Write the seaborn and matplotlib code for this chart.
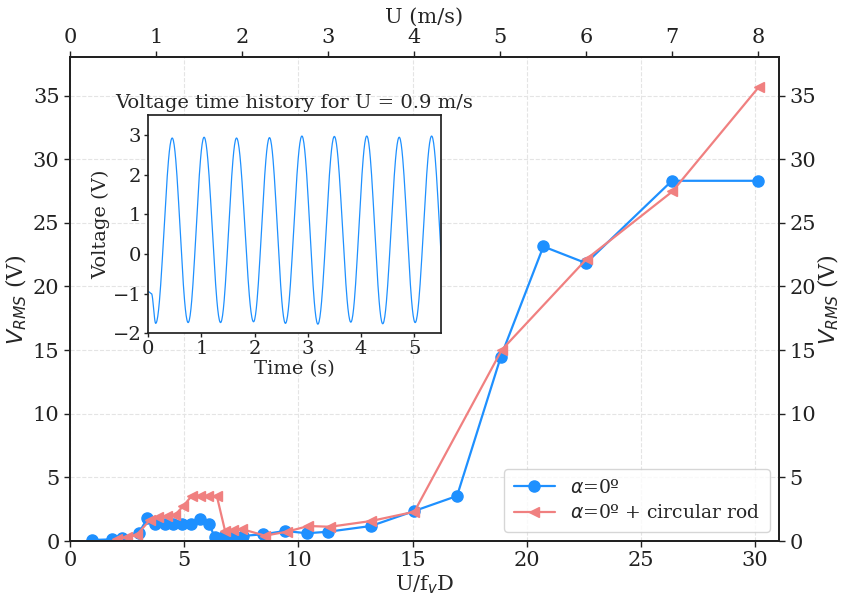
import numpy as np
import pandas as pd
import matplotlib
matplotlib.use("Agg")
import matplotlib.pyplot as plt
import seaborn as sns

# ==========================================
# DATA
# ==========================================
# alpha = 0 deg
bare_x = [0.95, 1.83, 2.26, 3.02, 3.39, 3.72, 4.16, 4.52, 4.89, 5.29, 5.69, 6.09,
          6.35, 6.71, 7.15, 7.56, 8.47, 9.42, 10.37, 11.31, 13.18, 15.08, 16.95,
          18.87, 20.73, 22.60, 26.36, 30.12]
bare_y = [0.08, 0.13, 0.20, 0.65, 1.78, 1.31, 1.31, 1.31, 1.31, 1.31, 1.71, 1.31,
          0.29, 0.29, 0.35, 0.40, 0.53, 0.79, 0.61, 0.73, 1.18, 2.36, 3.54,
          14.49, 23.14, 21.83, 28.30, 28.30]

# alpha = 0 deg + circular rod
rod_x = [2.05, 2.48, 2.92, 3.50, 3.87, 4.24, 4.60, 4.96, 5.33, 5.69, 6.06, 6.43,
         6.79, 7.15, 7.52, 8.54, 9.49, 10.44, 11.39, 13.18, 15.08, 18.91, 22.63,
         26.38, 30.18]
rod_y = [0.16, 0.29, 0.47, 1.65, 1.86, 1.97, 2.04, 2.75, 3.54, 3.54, 3.54, 3.54,
         0.81, 0.86, 0.94, 0.42, 0.73, 1.18, 1.12, 1.57, 2.30, 15.02, 22.17,
         27.46, 35.70]

# inset: voltage time history, turning points of the trace
ext_t = [0.00, 0.06, 0.14, 0.45, 0.75, 1.05, 1.36, 1.66, 1.98, 2.28, 2.58, 2.89,
         3.19, 3.50, 3.81, 4.11, 4.41, 4.72, 5.02, 5.33, 5.63]
ext_v = [-0.95, -1.00, -1.75, 2.92, -1.73, 2.94, -1.73, 2.92, -1.71, 2.93, -1.75,
         2.97, -1.77, 2.96, -1.72, 2.97, -1.76, 2.94, -1.73, 2.97, -1.75]

# smooth half-cosine between consecutive turning points
t_list, v_list = [], []
for i in range(len(ext_t) - 1):
    s = np.linspace(0, 1, 40, endpoint=False)
    t_list.append(ext_t[i] + (ext_t[i + 1] - ext_t[i]) * s)
    v_list.append(ext_v[i] + (ext_v[i + 1] - ext_v[i]) * (1 - np.cos(np.pi * s)) / 2)
wave = pd.DataFrame({"t": np.concatenate(t_list), "v": np.concatenate(v_list)})

bare = pd.DataFrame({"x": bare_x, "y": bare_y})
rod = pd.DataFrame({"x": rod_x, "y": rod_y})

# ==========================================
# STYLE
# ==========================================
sns.set_theme(style="ticks")
plt.rcParams["font.family"] = ["DejaVu Serif"]
plt.rcParams["mathtext.fontset"] = "dejavusans"
plt.rcParams["axes.edgecolor"] = "#222222"
plt.rcParams["xtick.color"] = "#222222"
plt.rcParams["ytick.color"] = "#222222"

blue = "#1E90FF"
red = "#F08080"

fig = plt.figure(figsize=(8.41, 5.99), dpi=100)
ax = fig.add_axes([0.0832, 0.0968, 0.8431, 0.8075])

sns.lineplot(data=bare, x="x", y="y", ax=ax, sort=False, estimator=None,
             color=blue, marker="o", markersize=8, mec=blue, mew=1, lw=1.6,
             label=r"$\alpha$=0º")
sns.lineplot(data=rod, x="x", y="y", ax=ax, sort=False, estimator=None,
             color=red, marker="<", markersize=7.5, mec=red, mew=1, lw=1.6,
             label=r"$\alpha$=0º + circular rod")

ax.set_xlim(0, 31.05)
ax.set_ylim(0, 38)
ax.set_xticks([0, 5, 10, 15, 20, 25, 30])
ax.set_yticks([0, 5, 10, 15, 20, 25, 30, 35])
ax.grid(True, ls="--", color="#e4e4e4", lw=0.8)
ax.set_xlabel(r"U/f$_v$D", fontsize=15, labelpad=2)
ax.set_ylabel(r"$V_{RMS}$ (V)", fontsize=16, labelpad=3)
ax.tick_params(labelsize=15, length=4, width=1)

leg = ax.legend(loc="lower right", fontsize=13.5, frameon=True, fancybox=True,
                handlelength=2.2, borderpad=0.5, labelspacing=0.4)
leg.get_frame().set_edgecolor("#cccccc")

# right axis
ax_r = ax.twinx()
ax_r.set_ylim(0, 38)
ax_r.set_yticks([0, 5, 10, 15, 20, 25, 30, 35])
ax_r.set_ylabel(r"$V_{RMS}$ (V)", fontsize=16, labelpad=0)
ax_r.tick_params(labelsize=15, length=4, width=1)

# top axis in m/s
ax_t = ax.twiny()
ax_t.set_xlim(0, 8.24)
ax_t.set_xticks(range(0, 9))
ax_t.set_xlabel("U (m/s)", fontsize=15, labelpad=4)
ax_t.tick_params(labelsize=15, length=4, width=1)

# ==========================================
# INSET
# ==========================================
ax_in = fig.add_axes([0.1763, 0.4436, 0.3477, 0.3644])
sns.lineplot(data=wave, x="t", y="v", ax=ax_in, sort=False, estimator=None,
             color=blue, lw=0.9)
ax_in.set_xlim(0, 5.5)
ax_in.set_ylim(-2, 3.5)
ax_in.set_xticks([0, 1, 2, 3, 4, 5])
ax_in.set_yticks([-2, -1, 0, 1, 2, 3])
ax_in.set_title("Voltage time history for U = 0.9 m/s", fontsize=14, pad=5)
ax_in.set_xlabel("Time (s)", fontsize=14, labelpad=1)
ax_in.set_ylabel("Voltage (V)", fontsize=14, labelpad=2)
ax_in.tick_params(labelsize=14, length=3, width=1, pad=2)
for sp in ax_in.spines.values():
    sp.set_visible(True)

fig.savefig("out.png", dpi=100)
